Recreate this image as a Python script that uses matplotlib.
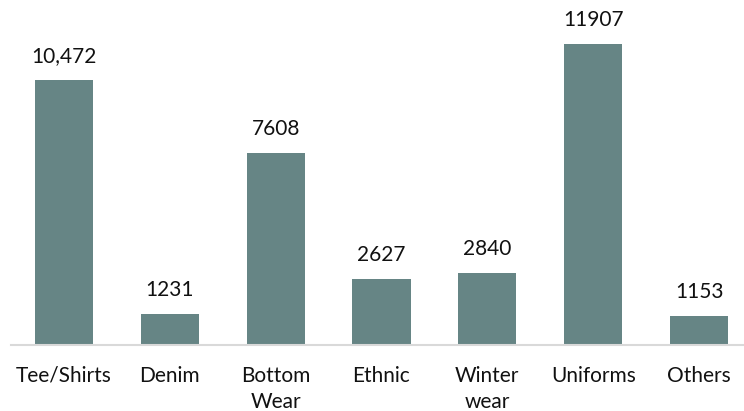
import matplotlib.pyplot as plt

categories = ['Tee/Shirts', 'Denim', 'Bottom\nWear', 'Ethnic', 'Winter\nwear', 'Uniforms', 'Others']
values = [10472, 1231, 7608, 2627, 2840, 11907, 1153]
labels = ['10,472', '1231', '7608', '2627', '2840', '11907', '1153']

plt.rcParams['font.family'] = ['Lato', 'DejaVu Sans']

fig = plt.figure(figsize=(7.44, 4.11), dpi=100)
ax = fig.add_axes([11 / 744, 66 / 411, 741 / 744, 0.7998])

x = range(len(categories))
bars = ax.bar(x, values, width=0.55, color='#668585')
for b, lab in zip(bars, labels):
    ax.text(b.get_x() + b.get_width() / 2, b.get_height() + 550, lab,
            ha='center', va='bottom', fontsize=15, color='#111111')

ax.set_xlim(-0.5, 6.5)
ax.set_ylim(0, 13000)
ax.set_xticks(list(x))
ax.set_xticklabels(categories, fontsize=15, color='#111111', linespacing=1.4)
ax.tick_params(axis='x', length=0, pad=15)
ax.set_yticks([])
for s in ['top', 'right', 'left']:
    ax.spines[s].set_visible(False)
ax.spines['bottom'].set_color('#d9d9d9')
ax.spines['bottom'].set_linewidth(1.5)

fig.savefig('out.png', dpi=100)
